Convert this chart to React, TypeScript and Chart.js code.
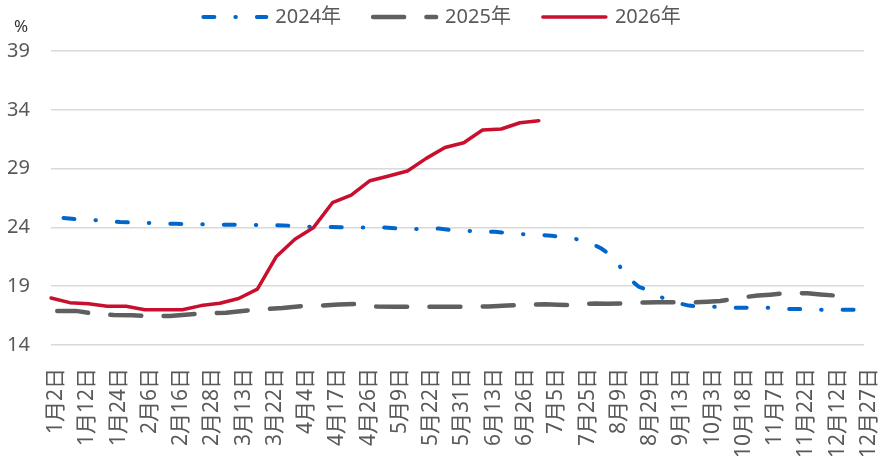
import { useEffect, useRef } from "react"
import { Chart, registerables } from "chart.js"

Chart.register(...registerables)

// weekly readings (Fridays) for each year
const dates2024 = [
  "1月5日", "1月12日", "1月19日", "1月26日", "2月2日", "2月9日", "2月16日", "2月23日",
  "3月1日", "3月8日", "3月15日", "3月22日", "3月29日", "4月5日", "4月12日", "4月19日",
  "4月26日", "5月3日", "5月10日", "5月17日", "5月24日", "5月31日", "6月7日", "6月14日",
  "6月21日", "6月28日", "7月5日", "7月12日", "7月19日", "7月26日", "8月2日", "8月9日",
  "8月16日", "8月23日", "8月30日", "9月6日", "9月13日", "9月20日", "9月27日", "10月4日",
  "10月11日", "10月18日", "10月25日", "11月1日", "11月8日", "11月15日", "11月22日", "11月29日",
  "12月6日", "12月13日", "12月20日", "12月27日",
]
const values2024 = [
  24.8, 24.65, 24.6, 24.45, 24.4, 24.35, 24.3, 24.28,
  24.23, 24.22, 24.2, 24.2, 24.15, 24.05, 24.05, 24.0,
  24.0, 24.0, 23.88, 23.86, 23.9, 23.72, 23.68, 23.62,
  23.45, 23.4, 23.3, 23.15, 23.0, 22.75, 22.2, 21.45,
  19.85, 18.95, 18.55, 17.95, 17.6, 17.35, 17.25, 17.25,
  17.2, 17.17, 17.17, 17.17, 17.15, 17.06, 17.05, 17.0,
  16.98, 17.0, 17.0, 17.0,
]

const dates2025 = [
  "1月3日", "1月10日", "1月17日", "1月24日", "1月31日", "2月7日", "2月14日", "2月21日",
  "2月28日", "3月7日", "3月14日", "3月21日", "3月28日", "4月4日", "4月11日", "4月18日",
  "4月25日", "5月2日", "5月9日", "5月16日", "5月23日", "5月30日", "6月6日", "6月13日",
  "6月20日", "6月27日", "7月4日", "7月11日", "7月18日", "7月25日", "8月1日", "8月8日",
  "8月15日", "8月22日", "8月29日", "9月5日", "9月12日", "9月19日", "9月26日", "10月3日",
  "10月10日", "10月17日", "10月24日", "10月31日", "11月7日", "11月14日", "11月21日", "11月28日",
  "12月5日", "12月12日", "12月19日", "12月26日",
]
const values2025 = [
  16.9, 16.9, 16.65, 16.55, 16.52, 16.47, 16.47, 16.6,
  16.7, 16.75, 16.92, 17.05, 17.15, 17.3, 17.35, 17.45,
  17.5, 17.27, 17.26, 17.26, 17.26, 17.26, 17.26, 17.28,
  17.36, 17.42, 17.46, 17.43, 17.4, 17.5, 17.53, 17.5,
  17.52, 17.55, 17.62, 17.63, 17.63, 17.63, 17.63, 17.68,
  17.75, 17.88, 18.08, 18.2, 18.28, 18.38, 18.42, 18.4,
  18.3, 18.22, 18.17, null,
]

const dates2026 = [
  "1月2日", "1月9日", "1月16日", "1月23日", "1月30日", "2月6日", "2月13日", "2月20日",
  "2月27日", "3月6日", "3月13日", "3月20日", "3月27日", "4月3日", "4月10日", "4月17日",
  "4月24日", "5月1日", "5月8日", "5月15日", "5月22日", "5月29日", "6月5日", "6月12日",
  "6月19日", "6月26日", "7月3日",
]
const values2026 = [
  18.0, 17.6, 17.5, 17.3, 17.3, 17.0, 17.0, 17.0,
  17.35, 17.55, 17.95, 18.75, 21.5, 23.0, 24.0, 26.1,
  26.75, 27.97, 28.37, 28.8, 29.87, 30.8, 31.2, 32.28,
  32.37, 32.9, 33.07,
]

const yMin = 14
const yMax = 39
const yStep = 5
const labelEvery = 5

function dayKey(label: string) {
  const m = label.match(/(\d+)月(\d+)日/)
  return m ? Number(m[1]) * 100 + Number(m[2]) : 0
}

// x axis = every reading date of the three years, in calendar order
const categories = Array.from(new Set([...dates2024, ...dates2025, ...dates2026])).sort(
  (a, b) => dayKey(a) - dayKey(b)
)

const FONT = "'Noto Sans', 'Noto Sans CJK SC', sans-serif"
const TEXT_COLOR = "#595959"

const yearLegend = {
  id: "yearLegend",
  afterDraw(chart: Chart) {
    const { ctx } = chart
    const lineLen = 67
    const textGap = 7
    const itemGap = 30
    const y = 17
    ctx.save()
    ctx.font = `20px ${FONT}`
    ctx.textBaseline = "middle"
    const items = chart.data.datasets.map((ds: any) => ({
      ds,
      w: ctx.measureText(ds.label).width,
    }))
    const total =
      items.reduce((s, it) => s + lineLen + textGap + it.w, 0) + itemGap * (items.length - 1)
    let x = chart.width / 2 - total / 2
    items.forEach(({ ds, w }) => {
      ctx.beginPath()
      ctx.strokeStyle = ds.borderColor
      ctx.lineWidth = ds.borderWidth
      ctx.lineCap = ds.borderCapStyle || "butt"
      ctx.setLineDash(ds.borderDash || [])
      ctx.moveTo(x + 2, y)
      ctx.lineTo(x + lineLen - 2, y)
      ctx.stroke()
      ctx.setLineDash([])
      ctx.fillStyle = TEXT_COLOR
      ctx.fillText(ds.label, x + lineLen + textGap, y)
      x += lineLen + textGap + w + itemGap
    })
    // unit label above the y axis
    ctx.font = `17px ${FONT}`
    ctx.fillStyle = "#333333"
    ctx.textAlign = "center"
    ctx.fillText("%", 21, 27)
    ctx.restore()
  },
}

export default function App() {
  const chartRef = useRef<HTMLCanvasElement>(null)
  const chartInstance = useRef<Chart | null>(null)

  useEffect(() => {
    if (!chartRef.current) return

    if (chartInstance.current) {
      chartInstance.current.destroy()
    }

    const toPoints = (dates: string[], values: (number | null)[]) =>
      dates.map((d, i) => ({ x: d, y: values[i] }))

    chartInstance.current = new Chart(chartRef.current, {
      type: "line",
      data: {
        labels: categories,
        datasets: [
          {
            label: "2024年",
            data: toPoints(dates2024, values2024),
            borderColor: "#0066CC",
            borderWidth: 4,
            borderDash: [11, 21, 0.5, 21],
            borderCapStyle: "round",
            pointRadius: 0,
            tension: 0,
            order: 3,
          },
          {
            label: "2025年",
            data: toPoints(dates2025, values2025),
            borderColor: "#5F5F5F",
            borderWidth: 4.5,
            borderDash: [31, 22.3],
            borderCapStyle: "round",
            pointRadius: 0,
            tension: 0,
            order: 2,
          },
          {
            label: "2026年",
            data: toPoints(dates2026, values2026),
            borderColor: "#C8102E",
            borderWidth: 3.5,
            borderCapStyle: "round",
            borderJoinStyle: "round",
            pointRadius: 0,
            tension: 0,
            order: 1,
          },
        ],
      },
      options: {
        animation: false,
        responsive: true,
        maintainAspectRatio: false,
        events: [],
        layout: {
          padding: { top: 51, right: 18, bottom: 0, left: 0 },
        },
        scales: {
          x: {
            type: "category",
            grid: { display: false },
            border: { display: false },
            afterFit: (scale: any) => {
              // keep the rotated end labels from squeezing the plot
              scale.height = 113
              scale.paddingLeft = 0
              scale.paddingRight = 0
            },
            ticks: {
              autoSkip: false,
              minRotation: 90,
              maxRotation: 90,
              padding: 15,
              labelOffset: 5,
              color: TEXT_COLOR,
              font: { family: FONT, size: 21 },
              callback: function (value: any, index: number) {
                return index % labelEvery === 0 ? (this as any).getLabelForValue(value) : null
              },
            },
          },
          y: {
            min: yMin,
            max: yMax,
            afterFit: (scale: any) => {
              scale.width = 51
            },
            grid: {
              color: "#D9D9D9",
              lineWidth: 1.5,
              drawTicks: false,
            },
            border: { display: false },
            ticks: {
              stepSize: yStep,
              padding: 21,
              color: TEXT_COLOR,
              font: { family: FONT, size: 20 },
            },
          },
        },
        plugins: {
          legend: { display: false },
          tooltip: { enabled: false },
        },
      },
      plugins: [yearLegend],
    })

    return () => {
      if (chartInstance.current) {
        chartInstance.current.destroy()
        chartInstance.current = null
      }
    }
  }, [])

  return (
    <div style={{ position: "absolute", left: 0, top: 0, width: 882, height: 458, background: "#fff" }}>
      <canvas ref={chartRef} />
    </div>
  )
}
